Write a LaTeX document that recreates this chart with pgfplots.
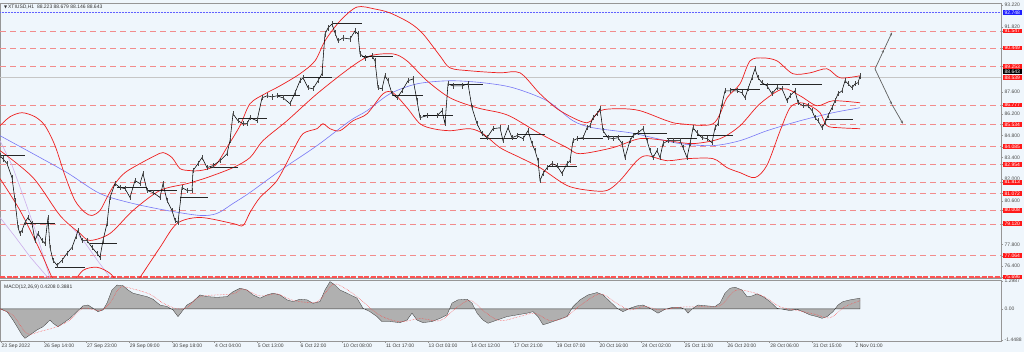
\documentclass[border=0pt]{standalone}
\usepackage{fontspec}
\setmainfont{Liberation Sans}
\newfontfamily\dejavu{DejaVu Sans}
\usepackage{pgfplots}
\pgfplotsset{compat=1.18}
\usetikzlibrary{arrows.meta}
\definecolor{bg}{RGB}{239,246,252}
\definecolor{lvl}{RGB}{242,140,140}
\definecolor{bandred}{RGB}{238,30,30}
\definecolor{maBlue}{RGB}{120,120,245}
\definecolor{purp}{RGB}{205,175,235}
\definecolor{labred}{RGB}{255,25,25}
\definecolor{labblue}{RGB}{30,30,255}
\definecolor{axgray}{RGB}{150,150,150}
\newcommand{\tf}{\fontsize{5}{6}\selectfont}
\begin{document}
\begin{tikzpicture}
\fill[bg] (0pt,0pt) rectangle (1024pt,352pt);
% ================= MAIN PRICE PANEL =================
\begin{axis}[
  at={(0pt,74pt)}, anchor=south west, scale only axis,
  width=1001pt, height=275pt,
  xmin=0, xmax=1001, ymin=75.63, ymax=93.35,
  clip mode=individual,
  axis line style={axgray, line width=0.6pt},
  xtick=\empty,
  ytick={76.4,77.8,80.6,82.0,83.4,84.8,86.2,87.6,91.82,93.22},
  ytick pos=right, yticklabel pos=right,
  tick align=outside, major tick length=2pt, tick style={axgray, line width=0.4pt},
  yticklabel style={font=\tf, text=black!70, inner xsep=1.5pt, inner ysep=0.7pt,
    /pgf/number format/fixed, /pgf/number format/fixed zerofill,
    /pgf/number format/precision=3, /pgf/number format/assume math mode=true},
  extra y ticks={91.547,90.449,89.253,86.777,85.534,84.085,82.954,81.813,81.072,80.008,79.120,77.064,75.696},
  extra y tick style={grid=major,
    major grid style={lvl, dash pattern=on 6pt off 4pt, line width=0.6pt},
    yticklabel style={fill=labred, text=white}},
]
% blue dotted level
\addplot[labblue!70, densely dotted, line width=0.5pt] coordinates {(0,92.748) (1001,92.748)};
% grey solid level
\addplot[gray!45, line width=0.5pt] coordinates {(0,88.539) (1001,88.539)};
% thick bottom level
\addplot[labred!75, line width=1.5pt, dash pattern=on 5pt off 1.5pt] coordinates {(0,75.70) (1001,75.70)};
% light purple envelope lines
\addplot[purp, line width=0.6pt] coordinates {(0,84.48) (12,82.9) (25,80.6) (38,78.2) (50,75.6)};
\addplot[purp, line width=0.6pt] coordinates {(0,79.53) (15,78.3) (30,77.0) (50,75.5)};
\addplot[purp, line width=0.6pt] coordinates {(72,78.9) (85,77.9) (97,76.8) (112,75.5)};
% moving average (blue)
\addplot[maBlue, line width=0.6pt, smooth] coordinates {
(0,84.80)(33,83.64)(67,82.42)(100,81.07)(133,80.43)(167,79.98)(200,79.66)(217,79.79)(233,80.43)(250,81.14)(283,82.68)(317,84.16)(350,85.76)(367,86.41)(390,87.50)(417,88.14)(450,88.34)(483,88.21)(513,87.89)(547,87.05)(573,85.76)(593,85.31)(630,84.99)(653,84.67)(680,84.29)(713,84.16)(740,84.48)(767,85.12)(800,85.76)(833,86.28)(860,86.60)};
% Bollinger upper
\addplot[bandred, line width=0.7pt, smooth] coordinates {
(0,85.44)(10,86.02)(22,86.28)(35,86.02)(45,85.44)(55,84.16)(65,82.23)(75,80.62)(85,79.85)(92,79.66)(100,79.98)(107,80.82)(115,81.71)(125,82.42)(140,83.00)(155,83.51)(163,83.71)(172,83.39)(180,82.68)(190,82.55)(200,82.55)(215,82.87)(228,84.16)(240,85.44)(250,86.86)(265,87.50)(280,88.01)(300,88.79)(315,89.62)(325,90.91)(340,92.19)(357,93.09)(375,92.96)(390,92.71)(410,92.06)(423,91.36)(440,89.94)(450,89.17)(470,88.98)(500,88.85)(520,88.85)(540,87.50)(560,86.41)(587,85.63)(600,86.41)(620,86.54)(640,86.41)(667,85.76)(680,85.57)(713,85.57)(727,87.24)(740,88.14)(750,89.62)(763,89.81)(777,89.62)(793,88.79)(810,88.85)(827,89.11)(840,88.53)(860,88.66)};
% Bollinger middle
\addplot[bandred, line width=0.7pt, smooth] coordinates {
(0,83.84)(33,82.10)(60,79.66)(80,78.50)(90,78.05)(110,78.50)(133,79.98)(160,81.27)(187,81.71)(207,82.10)(233,82.74)(250,83.39)(263,84.48)(287,85.76)(317,87.50)(350,89.17)(370,89.94)(393,90.07)(407,89.62)(427,88.34)(450,87.24)(477,86.60)(500,86.28)(513,85.96)(540,84.93)(567,84.03)(580,83.64)(613,84.03)(640,84.61)(667,84.48)(693,84.29)(720,84.61)(740,85.44)(760,86.86)(783,87.82)(800,87.37)(817,86.73)(833,87.05)(860,86.92)};
% Bollinger lower
\addplot[bandred, line width=0.7pt, smooth] coordinates {
(0,82.04)(20,79.98)(40,77.41)(52,75.67)(58,75.16)};
\addplot[bandred, line width=0.7pt, smooth] coordinates {
(72,75.16)(83,76.12)(97,76.32)(110,75.93)(120,75.16)};
\addplot[bandred, line width=0.7pt, smooth] coordinates {
(133,75.16)(140,75.67)(160,77.60)(177,79.14)(200,79.53)(233,79.14)(243,79.01)(250,79.85)(260,80.82)(277,81.91)(293,83.84)(303,84.93)(317,85.25)(323,85.57)(330,85.25)(340,85.12)(353,85.76)(367,86.21)(383,87.50)(393,87.56)(407,86.60)(420,85.57)(433,85.25)(450,85.12)(470,85.25)(483,84.93)(500,84.03)(520,83.39)(540,82.74)(567,81.59)(590,81.27)(607,81.27)(620,81.91)(637,83.19)(647,83.51)(667,83.19)(687,83.32)(713,83.32)(727,82.74)(740,82.42)(755,82.10)(767,82.90)(780,85.10)(790,86.60)(800,86.92)(810,86.73)(820,86.28)(827,85.44)(840,85.31)(860,85.25)};
% daily open segments
\addplot[black!85, line width=0.6pt, unbounded coords=jump] coordinates {
(0,83.52)(25,83.52)(25,nan)(25,79.14)(55,79.14)(55,nan)(55,76.32)(85,76.32)(85,nan)
(90,77.86)(117,77.86)(117,nan)(117,81.46)(147,81.46)(147,nan)(147,81.27)(177,81.27)(177,nan)
(180,80.82)(208,80.82)(208,nan)(210,82.74)(238,82.74)(238,nan)(238,85.89)(267,85.89)(267,nan)
(277,87.37)(300,87.37)(300,nan)(303,88.59)(332,88.59)(332,nan)(332,92.06)(362,92.06)(362,nan)
(362,89.94)(393,89.94)(393,nan)(393,87.37)(423,87.37)(423,nan)(423,86.09)(453,86.09)(453,nan)
(450,88.14)(483,88.14)(483,nan)(480,84.61)(517,84.61)(517,nan)(517,84.86)(545,84.86)(545,nan)
(547,82.81)(577,82.81)(577,nan)(577,84.61)(603,84.61)(603,nan)(603,84.74)(633,84.74)(633,nan)
(633,84.93)(667,84.93)(667,nan)(667,84.61)(697,84.61)(697,nan)(697,84.80)(733,84.80)(733,nan)
(730,87.82)(760,87.82)(760,nan)(760,88.14)(790,88.14)(790,nan)(792,88.08)(822,88.08)(822,nan)
(825,85.83)(853,85.83)};
% price (close path with high-low wicks)
\addplot[black, line width=0.55pt,
  error bars/.cd, y dir=both, y fixed=0.17, error mark=none,
  error bar style={gray!55!black, line width=0.55pt}] coordinates {
(0,83.52)(3,83.30)(7,83.00)(12,82.10)(15,80.62)(18,78.89)(20,78.50)(22,78.70)(25,79.21)(28,79.53)(32,79.14)(35,78.05)(38,78.50)(42,78.05)(45,77.86)(48,79.53)(50,77.60)(53,76.77)(57,76.45)(62,76.77)(67,77.22)(72,77.60)(76,78.30)(78,78.70)(82,78.05)(87,78.05)(92,77.60)(97,77.22)(100,76.96)(103,78.05)(107,79.14)(110,80.82)(115,81.71)(120,81.46)(125,81.39)(130,80.82)(135,81.91)(140,81.71)(143,82.36)(147,81.27)(153,81.14)(160,80.82)(163,81.71)(167,80.62)(172,79.98)(175,79.34)(178,79.21)(182,81.46)(187,81.27)(192,81.27)(193,82.55)(198,83.00)(202,83.39)(207,82.74)(213,82.87)(220,83.19)(227,83.64)(230,84.48)(233,86.21)(238,85.76)(243,85.57)(247,85.57)(250,85.96)(257,85.76)(262,87.24)(267,87.37)(272,87.30)(277,87.37)(283,87.24)(290,86.86)(295,87.56)(300,88.34)(303,88.53)(308,87.89)(313,87.82)(318,88.34)(322,88.79)(325,91.36)(328,91.74)(332,92.00)(335,91.42)(338,90.91)(343,91.10)(350,91.03)(355,91.55)(358,91.36)(360,90.07)(365,89.81)(372,89.94)(375,89.62)(378,87.89)(382,87.82)(385,88.66)(388,88.34)(392,87.50)(397,87.24)(402,87.69)(408,88.34)(413,88.46)(417,87.05)(420,85.96)(427,86.09)(437,86.09)(442,86.41)(445,85.57)(448,88.14)(453,88.01)(462,88.01)(468,88.14)(472,86.60)(477,85.57)(482,84.93)(487,84.67)(493,85.25)(500,85.31)(503,84.48)(508,85.31)(512,84.67)(517,84.80)(523,84.61)(528,85.12)(532,84.29)(535,83.84)(538,83.19)(540,81.91)(543,82.36)(547,82.74)(552,83.00)(557,82.87)(562,82.36)(567,83.00)(570,83.19)(573,84.48)(577,84.61)(583,84.67)(587,85.31)(590,85.44)(593,85.96)(597,86.21)(600,86.54)(603,85.12)(608,84.67)(613,84.61)(618,84.67)(622,84.29)(625,83.39)(630,84.48)(633,84.80)(638,84.99)(643,85.25)(647,84.48)(650,83.84)(653,83.39)(657,83.84)(660,83.39)(663,84.29)(668,84.48)(673,84.48)(680,84.48)(683,84.03)(687,83.39)(690,84.29)(693,85.31)(697,84.99)(702,84.67)(707,84.61)(712,84.35)(715,85.31)(718,85.57)(722,86.86)(725,87.69)(730,87.69)(737,87.69)(742,87.56)(745,87.24)(748,87.82)(752,88.53)(755,89.11)(758,88.53)(762,88.21)(767,88.01)(772,87.50)(777,87.89)(782,87.82)(787,87.05)(790,87.37)(795,87.69)(798,86.92)(803,86.73)(808,86.73)(812,86.41)(815,85.96)(818,85.76)(822,85.31)(825,85.63)(828,86.09)(832,86.60)(835,87.05)(838,87.50)(842,87.69)(845,88.34)(848,88.14)(852,87.89)(855,88.14)(858,88.21)(860,88.64)};
% projection arrows
\addplot[gray!75!black, line width=0.7pt, -{Stealth[length=3pt,width=2.4pt]}] coordinates {(875,89.10) (884,90.35)};
\addplot[gray!75!black, line width=0.7pt, -{Stealth[length=3pt,width=2.4pt]}] coordinates {(884,90.35) (892,91.45)};
\addplot[gray!75!black, line width=0.7pt, -{Stealth[length=3pt,width=2.4pt]}] coordinates {(875,89.10) (892,86.80)};
\addplot[gray!75!black, line width=0.7pt, -{Stealth[length=3pt,width=2.4pt]}] coordinates {(892,86.80) (903,85.57)};
% labels on the price scale
\node[anchor=west, fill=labblue, text=white, font=\tf, inner xsep=1.5pt, inner ysep=0.7pt, xshift=2pt] at (axis cs:1001,92.748) {92.748};
\node[anchor=west, fill=black, text=white, font=\tf, inner xsep=1.5pt, inner ysep=0.7pt, xshift=2pt] at (axis cs:1001,88.93) {88.643};
\node[anchor=west, fill=labred, text=white, font=\tf, inner xsep=1.5pt, inner ysep=0.7pt, xshift=2pt] at (axis cs:1001,88.539) {88.539};
% title
\node[anchor=west, font=\tf, text=black!80, inner sep=0pt] at (rel axis cs:0.004,0.985)
  {{\dejavu\fontsize{4}{5}\selectfont ▼}\,XTIUSD,H1\ \ 88.223 88.679 88.146 88.643};
\end{axis}
% ================= MACD PANEL =================
\begin{axis}[
  at={(0pt,11pt)}, anchor=south west, scale only axis,
  width=1001pt, height=61pt,
  xmin=0, xmax=1001, ymin=-1.495, ymax=1.345,
  clip mode=individual,
  axis line style={axgray, line width=0.6pt},
  ytick={-1.4488,0,1.2987}, yticklabels={-1.4488,0.00,1.2987},
  ytick pos=right, yticklabel pos=right,
  xtick={1,43.7,86.4,129.1,171.8,214.5,257.2,299.9,342.6,385.3,428,470.7,513.4,556.1,598.8,641.5,684.2,726.9,769.6,812.3,855},
  xticklabels={23 Sep 2022,26 Sep 14:00,27 Sep 23:00,29 Sep 09:00,30 Sep 18:00,4 Oct 04:00,5 Oct 13:00,6 Oct 22:00,10 Oct 08:00,11 Oct 17:00,13 Oct 03:00,14 Oct 12:00,17 Oct 21:00,19 Oct 07:00,20 Oct 16:00,24 Oct 02:00,25 Oct 11:00,26 Oct 20:00,28 Oct 06:00,31 Oct 15:00,2 Nov 01:00},
  xtick pos=bottom,
  tick align=outside, major tick length=2pt, tick style={axgray, line width=0.4pt},
  yticklabel style={font=\tf, text=black!70, inner xsep=1.5pt, inner ysep=0.5pt},
  xticklabel style={font=\tf, text=black!75, anchor=north west, inner xsep=0.5pt, inner ysep=1pt},
]
\addplot[fill=gray!62, draw=gray!45!black, line width=0.3pt] coordinates {
(0,0)(7,-0.13)(13,-0.52)(18,-0.90)(22,-1.21)(25,-1.37)(30,-1.21)(37,-0.98)(43,-0.83)(50,-0.52)(53,-0.67)(58,-0.83)(63,-0.67)(70,-0.44)(77,-0.13)(83,0.14)(88,0.18)(93,0.03)(98,-0.13)(103,-0.05)(107,0.27)(112,0.88)(117,1.11)(123,1.08)(128,0.88)(133,0.73)(140,0.65)(147,0.57)(153,0.45)(160,0.18)(167,0.11)(173,-0.05)(178,-0.36)(182,-0.12)(187,0.18)(193,0.34)(200,0.65)(207,0.57)(217,0.54)(227,0.57)(233,0.80)(240,0.96)(247,0.88)(253,0.65)(260,0.50)(267,0.65)(273,0.73)(280,0.65)(287,0.42)(293,0.34)(300,0.45)(307,0.42)(313,0.26)(320,0.34)(325,0.88)(330,1.27)(335,1.11)(340,0.88)(347,0.73)(357,0.50)(363,0.03)(370,-0.13)(377,-0.36)(382,-0.59)(390,-0.59)(400,-0.64)(407,-0.52)(412,-0.20)(417,-0.52)(423,-0.64)(432,-0.59)(440,-0.44)(447,-0.28)(452,0.27)(458,0.42)(467,0.45)(472,0.27)(477,-0.20)(483,-0.52)(488,-0.67)(497,-0.52)(507,-0.36)(517,-0.28)(527,-0.20)(533,-0.13)(538,-0.36)(543,-0.74)(548,-0.67)(557,-0.52)(567,-0.36)(573,0.11)(580,0.42)(588,0.65)(597,0.76)(603,0.65)(610,0.34)(617,0.03)(623,-0.13)(630,0.03)(637,0.14)(643,0.18)(650,0.03)(658,-0.20)(665,-0.02)(673,0.08)(680,0.08)(685,-0.02)(688,-0.20)(693,0.03)(698,0.18)(707,0.14)(715,0.11)(720,0.27)(725,0.73)(730,0.96)(735,1.01)(742,0.88)(747,0.57)(752,0.60)(757,0.70)(763,0.57)(770,0.34)(777,0.03)(783,-0.02)(790,-0.08)(797,-0.02)(803,-0.13)(810,-0.28)(817,-0.36)(822,-0.44)(827,-0.36)(833,-0.13)(838,0.18)(843,0.34)(850,0.42)(860,0.50)} \closedcycle;
\addplot[labred!80, densely dotted, line width=0.5pt, smooth] coordinates {
(0,0)(13,-0.30)(27,-1.15)(40,-1.05)(57,-0.83)(70,-0.52)(83,0.03)(100,-0.08)(110,0.27)(120,1.00)(133,0.93)(150,0.68)(163,0.27)(177,0.00)(187,0.06)(200,0.57)(233,0.70)(243,0.93)(260,0.60)(277,0.70)(293,0.40)(317,0.33)(333,1.15)(347,0.90)(360,0.45)(380,-0.30)(400,-0.60)(420,-0.45)(440,-0.55)(455,0.00)(470,0.40)(485,-0.15)(500,-0.55)(520,-0.35)(535,-0.20)(550,-0.55)(565,-0.40)(580,0.15)(600,0.70)(617,0.25)(630,-0.05)(645,0.12)(660,-0.05)(680,0.08)(700,0.10)(720,0.15)(735,0.85)(750,0.80)(765,0.55)(780,0.10)(800,-0.10)(815,-0.25)(830,-0.42)(845,0.10)(860,0.38)};
\node[anchor=west, font=\tf, text=black!80, inner sep=0pt] at (rel axis cs:0.004,0.88) {MACD(12,26,9) 0.4208 0.3881};
\end{axis}
\pgfresetboundingbox
\path[use as bounding box] (0pt,0pt) rectangle (1024pt,352pt);
\end{tikzpicture}
\end{document}
